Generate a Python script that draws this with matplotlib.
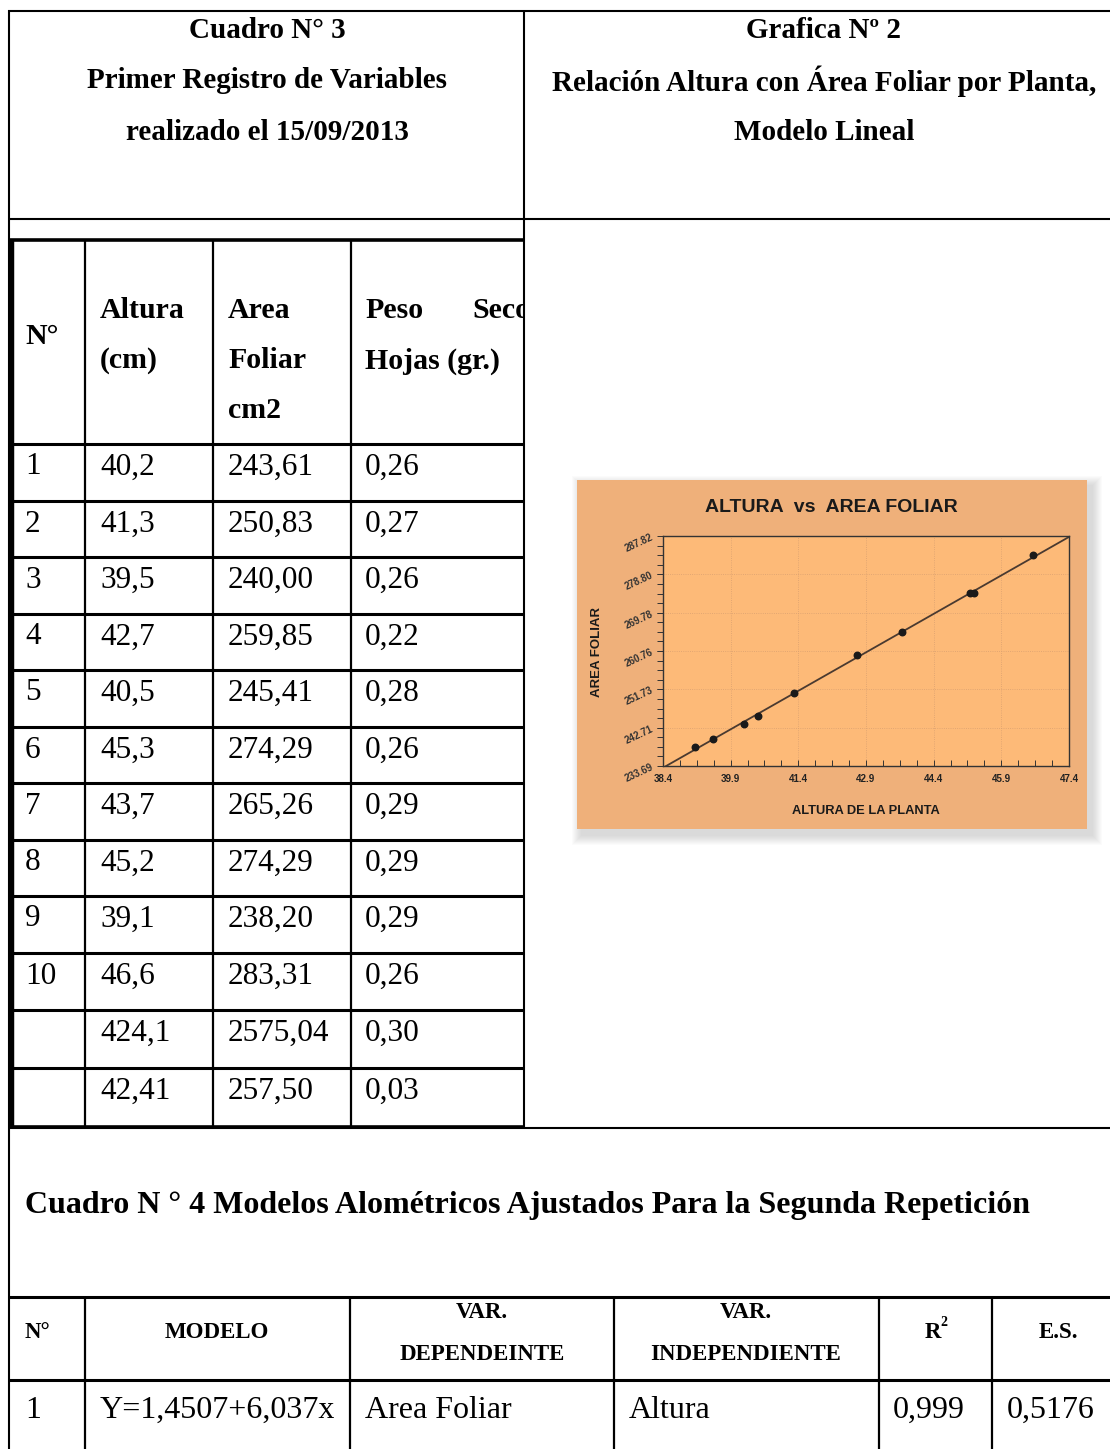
import numpy as np
import matplotlib
matplotlib.use('Agg')
import matplotlib.pyplot as plt
from matplotlib.patches import Rectangle

# data
num = ['1', '2', '3', '4', '5', '6', '7', '8', '9', '10']
altura = [40.2, 41.3, 39.5, 42.7, 40.5, 45.3, 43.7, 45.2, 39.1, 46.6]
area = [243.61, 250.83, 240.00, 259.85, 245.41, 274.29, 265.26, 274.29, 238.20, 283.31]
peso = [0.26, 0.27, 0.26, 0.22, 0.28, 0.26, 0.29, 0.29, 0.29, 0.26]
suma_txt = ['424,1', '2575,04', '0,30']
prom_txt = ['42,41', '257,50', '0,03']
b0 = 1.4507
b1 = 6.037
xticks = [38.4, 39.9, 41.4, 42.9, 44.4, 45.9, 47.4]
yticks = [233.69, 242.71, 251.73, 260.76, 269.78, 278.80, 287.82]

def coma(v, d):
	return ('%.*f' % (d, v)).replace('.', ',')

serif = ['Liberation Serif', 'DejaVu Serif']
narrow = ['Liberation Sans Narrow', 'Liberation Sans', 'DejaVu Sans']
plt.rcParams['font.family'] = serif

fig = plt.figure(figsize=(11.1, 14.49), dpi=100)
ax = fig.add_axes([0, 0, 1, 1])
ax.set_xlim(0, 1110)
ax.set_ylim(1449, 0)
ax.axis('off')

def hl(y, x0, x1, lw=1.5):
	ax.plot([x0, x1], [y, y], color='black', lw=lw, solid_capstyle='butt')
def vl(x, y0, y1, lw=1.5):
	ax.plot([x, x], [y0, y1], color='black', lw=lw, solid_capstyle='butt')

# outer frame
hl(11, 8, 1110)
hl(219, 8, 1110)
vl(9, 10, 1449)
vl(524, 10, 1129)
hl(1128, 8, 1110)

# inner table (Cuadro 3)
rows = [444, 501, 557, 614, 670, 727, 783, 840, 896, 953, 1010, 1068, 1127]
hl(240, 10, 524, 2.6)
vl(12, 239, 1128, 3.2)
for c in [85, 213, 351]:
	vl(c, 240, 1127, 1.6)
for r in rows[:-1]:
	hl(r, 10, 524, 2.2)
hl(1127, 10, 524, 2.6)

# headings
for t, y in zip(['Cuadro N° 3', 'Primer Registro de Variables', 'realizado el 15/09/2013'], [30, 81, 132]):
	ax.text(267, y, t, ha='center', va='center', fontsize=21, fontweight='bold')
for t, y in zip(['Grafica Nº 2', 'Relación Altura con Área Foliar por Planta,', 'Modelo Lineal'], [30, 81, 132]):
	ax.text(824, y, t, ha='center', va='center', fontsize=21, fontweight='bold')

hk = dict(va='center', fontsize=21.5, fontweight='bold')
ax.text(25, 336, 'N°', **hk)
ax.text(100, 311, 'Altura', **hk)
ax.text(100, 361, '(cm)', **hk)
ax.text(228, 311, 'Area', **hk)
ax.text(228, 361, 'Foliar', **hk)
ax.text(228, 411, 'cm2', **hk)
ax.text(365, 311, 'Peso', **hk)
ax.text(365, 361, 'Hojas (gr.)', **hk)
clip = Rectangle((351, 240), 172, 204, transform=ax.transData, fill=False, lw=0)
ax.add_patch(clip)
t = ax.text(472, 311, 'Seco', **hk)
t.set_clip_on(True)
t.set_clip_path(clip)

bk = dict(va='center', fontsize=22.5)
for i in range(len(num)):
	y = rows[i] + 23
	ax.text(25, y, num[i], **bk)
	ax.text(100, y, coma(altura[i], 1), **bk)
	ax.text(228, y, coma(area[i], 2), **bk)
	ax.text(365, y, coma(peso[i], 2), **bk)
for j, xx in enumerate([100, 228, 365]):
	ax.text(xx, rows[10] + 23, suma_txt[j], **bk)
	ax.text(xx, rows[11] + 23, prom_txt[j], **bk)

# Cuadro 4
ax.text(25, 1206, 'Cuadro N ° 4 Modelos Alométricos Ajustados Para la Segunda Repetición',
		va='center', fontsize=23, fontweight='bold')
hl(1297, 8, 1110, 2.2)
hl(1380, 8, 1110, 2.2)
for c in [85, 350, 614, 879, 992]:
	vl(c, 1297, 1449, 1.6)
sk = dict(ha='center', va='center', fontsize=16.5, fontweight='bold')
ax.text(37, 1333, 'N°', **sk)
ax.text(217, 1333, 'MODELO', **sk)
ax.text(482, 1312, 'VAR.', **sk)
ax.text(482, 1354, 'DEPENDEINTE', **sk)
ax.text(746, 1312, 'VAR.', **sk)
ax.text(746, 1354, 'INDEPENDIENTE', **sk)
ax.text(933, 1333, 'R', **sk)
ax.text(944, 1322, '2', ha='center', va='center', fontsize=10, fontweight='bold')
ax.text(1058, 1333, 'E.S.', **sk)
mk = dict(va='center', fontsize=23)
ax.text(25, 1410, '1', **mk)
ax.text(100, 1410, 'Y=' + coma(b0, 4) + '+' + coma(b1, 3) + 'x', **mk)
ax.text(365, 1410, 'Area Foliar', **mk)
ax.text(629, 1410, 'Altura', **mk)
ax.text(893, 1410, '0,999', **mk)
ax.text(1007, 1410, '0,5176', **mk)

# chart box with soft shadow
for k in range(10, 0, -1):
	ax.add_patch(Rectangle((577 - k + 5, 480 - k + 6), 510 + 2 * k, 349 + 2 * k,
						   facecolor='#909090', edgecolor='none', alpha=0.035))
ax.add_patch(Rectangle((577, 480), 510, 349, facecolor='#EFB07A', edgecolor='none'))

W, H = 1110.0, 1449.0
cx = fig.add_axes([663 / W, 1 - 766 / H, (1069 - 663) / W, (766 - 536) / H])
cx.set_facecolor('#FDBA78')
cx.set_xlim(xticks[0], xticks[-1])
cx.set_ylim(yticks[0], yticks[-1])
cx.set_xticks(xticks)
cx.set_yticks(yticks)
cx.set_xticks(np.arange(xticks[0], xticks[-1] + 0.01, 0.375), minor=True)
cx.set_yticks(np.linspace(yticks[0], yticks[-1], 25), minor=True)
cx.set_xticklabels(['%.1f' % v for v in xticks], fontsize=7, fontweight='bold', family=narrow)
cx.set_yticklabels(['%.2f' % v for v in yticks], fontsize=7, fontweight='bold', family=narrow,
				   rotation=25, color='#222222')
cx.tick_params(axis='x', which='both', direction='in', length=4, width=0.7, pad=6, colors='#333333')
cx.tick_params(axis='y', which='both', direction='out', length=4, width=0.7, pad=2, colors='#333333')
cx.tick_params(axis='x', labelcolor='#222222')
cx.grid(True, which='major', color='#D9A070', lw=0.6, ls=':')
for s in cx.spines.values():
	s.set_linewidth(1.0)
	s.set_color('#333333')

xl = np.array([xticks[0], xticks[-1]])
cx.plot(xl, b0 + b1 * xl, color='#4a3a30', lw=1.3)
cx.scatter(altura, area, s=22, color='#1a1a1a', zorder=3)

ax.text(831, 507, 'ALTURA  vs  AREA FOLIAR', ha='center', va='center', fontsize=14,
		fontweight='bold', family=narrow, color='#1a1a1a')
ax.text(597, 652, 'AREA FOLIAR', ha='center', va='center', rotation=90, fontsize=9.5,
		fontweight='bold', family=narrow, color='#1a1a1a')
ax.text(866, 811, 'ALTURA DE LA PLANTA', ha='center', va='center', fontsize=9.3,
		fontweight='bold', family=narrow, color='#1a1a1a')

fig.savefig('out.png', dpi=100)
